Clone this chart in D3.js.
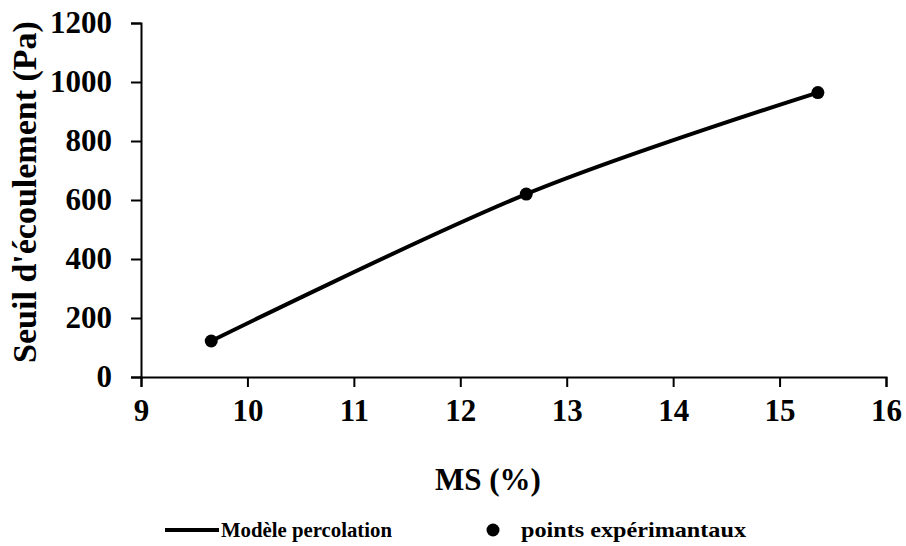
<!DOCTYPE html>
<html>
    <head>
        <title>Seuil d'écoulement</title>
        <meta charset="UTF-8">
        <script src="https://d3js.org/d3.v7.min.js"></script>
        <style>
            body { margin: 0; background: #fff; }
            text { font-family: 'Liberation Serif', 'Times New Roman', serif; font-weight: bold; fill: #000; }
            .axis path, .axis line { stroke: #000; stroke-width: 2px; }
            .line { fill: none; stroke: #000; stroke-width: 4px; }
        </style>
    </head>
    <body>
        <svg width="906" height="546"></svg>
        <script>
            // model curve and measured points
            var modelMS = [9.66, 12.62, 15.36];
            var modelSeuil = [122, 620, 964];
            var expMS = [9.66, 12.62, 15.36];
            var expSeuil = [122, 620, 964];
            var xTicks = [9, 10, 11, 12, 13, 14, 15, 16];
            var yTicks = [0, 200, 400, 600, 800, 1000, 1200];

            var svg = d3.select('svg'),
                margin = { top: 23, right: 20, bottom: 169, left: 141 },
                width = svg.attr('width') - margin.left - margin.right,
                height = svg.attr('height') - margin.top - margin.bottom,
                g = svg.append('g').attr('transform', 'translate(' + margin.left + ',' + margin.top + ')');

            var x = d3.scaleLinear().domain([9, 16]).range([0, width]),
                y = d3.scaleLinear().domain([0, 1200]).range([height, 0]);

            var model = modelMS.map(function(d, i) { return { x: d, y: modelSeuil[i] }; });
            var pts = expMS.map(function(d, i) { return { x: d, y: expSeuil[i] }; });

            var line = d3.line()
                .curve(d3.curveCardinal.tension(0))
                .x(function(d) { return x(d.x); })
                .y(function(d) { return y(d.y); });

            var xAxis = g.append('g')
                .attr('class', 'axis')
                .attr('transform', 'translate(0,' + height + ')')
                .call(d3.axisBottom(x).tickValues(xTicks).tickSize(10).tickPadding(12).tickFormat(d3.format('d')));
            xAxis.selectAll('text').style('font-size', '31px');

            var yAxis = g.append('g')
                .attr('class', 'axis')
                .call(d3.axisLeft(y).tickValues(yTicks).tickSize(10).tickPadding(19).tickFormat(d3.format('d')));
            yAxis.selectAll('text').style('font-size', '31px');

            g.append('path')
                .datum(model)
                .attr('class', 'line')
                .attr('d', line);

            g.selectAll('.pt')
                .data(pts)
                .enter().append('circle')
                .attr('class', 'pt')
                .attr('cx', function(d) { return x(d.x); })
                .attr('cy', function(d) { return y(d.y); })
                .attr('r', 6.5)
                .attr('fill', '#000');

            svg.append('text')
                .attr('x', 488)
                .attr('y', 490)
                .style('text-anchor', 'middle')
                .style('font-size', '31px')
                .text('MS (%)');

            svg.append('text')
                .attr('transform', 'translate(36,192) rotate(-90)')
                .style('text-anchor', 'middle')
                .style('font-size', '34px')
                .text("Seuil d'écoulement (Pa)");

            // legend
            var leg = svg.append('g').attr('transform', 'translate(0,530)');
            leg.append('line')
                .attr('x1', 165).attr('x2', 219)
                .attr('y1', 0).attr('y2', 0)
                .attr('stroke', '#000').attr('stroke-width', 4);
            leg.append('text')
                .attr('x', 221).attr('y', 7)
                .style('font-size', '21px')
                .attr('textLength', 171)
                .attr('lengthAdjust', 'spacingAndGlyphs')
                .text('Modèle percolation');
            leg.append('circle')
                .attr('cx', 493).attr('cy', 0).attr('r', 6.5)
                .attr('fill', '#000');
            leg.append('text')
                .attr('x', 521).attr('y', 7)
                .style('font-size', '21px')
                .attr('textLength', 225)
                .attr('lengthAdjust', 'spacingAndGlyphs')
                .text('points expérimantaux');
        </script>
    </body>
</html>
